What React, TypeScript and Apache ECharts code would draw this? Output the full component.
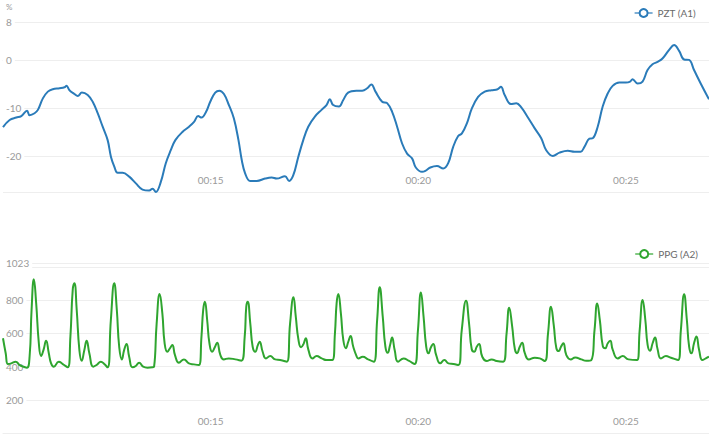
import React, { useEffect, useRef } from "react";
import * as echarts from "echarts";

// PZT (A1) — time in seconds, value in %
const pztTime = [
  10.0, 10.16, 10.32, 10.44, 10.58, 10.64, 10.76, 10.84, 10.96, 11.08, 11.2, 11.36, 11.48, 11.53, 11.6, 11.72,
  11.8, 11.9, 12.04, 12.16, 12.28, 12.4, 12.52, 12.6, 12.68, 12.76, 12.88, 13.04, 13.2, 13.36, 13.52, 13.6,
  13.68, 13.8, 13.92, 14.04, 14.15, 14.32, 14.48, 14.6, 14.7, 14.78, 14.89, 14.99, 15.11, 15.21, 15.32, 15.44,
  15.56, 15.67, 15.75, 15.83, 15.95, 16.11, 16.31, 16.47, 16.59, 16.79, 16.89, 16.99, 17.11, 17.23, 17.35, 17.51,
  17.67, 17.79, 17.87, 17.95, 18.09, 18.19, 18.31, 18.51, 18.65, 18.77, 18.87, 18.97, 19.13, 19.25, 19.37, 19.49,
  19.61, 19.73, 19.85, 19.94, 20.09, 20.17, 20.29, 20.45, 20.6, 20.72, 20.84, 20.96, 21.05, 21.17, 21.29, 21.44,
  21.6, 21.76, 21.91, 21.99, 22.08, 22.23, 22.36, 22.48, 22.64, 22.8, 22.96, 23.08, 23.24, 23.4, 23.6, 23.76,
  23.91, 24.0, 24.12, 24.2, 24.32, 24.44, 24.56, 24.68, 24.84, 25.0, 25.1, 25.16, 25.28, 25.4, 25.52, 25.64,
  25.76, 25.88, 26.04, 26.16, 26.28, 26.4, 26.52, 26.64, 26.8, 27.0,
];
const pztValue = [
  -13.9, -12.4, -11.9, -11.6, -10.5, -11.4, -11.0, -10.3, -7.9, -6.5, -6.0, -5.8, -5.6, -5.3, -6.2, -7.0,
  -7.4, -6.7, -7.2, -8.6, -11.0, -13.8, -16.6, -20.1, -22.1, -23.4, -23.4, -24.2, -25.6, -26.9, -27.1, -26.7,
  -27.4, -25.3, -21.4, -18.7, -16.6, -14.9, -13.8, -12.8, -11.6, -11.9, -10.7, -8.6, -6.7, -6.3, -7.0, -9.3,
  -12.1, -16.6, -20.8, -23.5, -25.1, -25.1, -24.6, -24.4, -24.6, -24.1, -25.1, -23.9, -20.1, -16.6, -13.8, -11.7,
  -10.3, -9.3, -8.1, -9.3, -9.6, -8.3, -6.7, -6.3, -6.3, -5.8, -5.0, -6.5, -8.6, -8.9, -10.7, -13.8,
  -17.3, -19.4, -20.4, -22.3, -23.2, -23.0, -22.3, -22.0, -22.5, -21.4, -18.0, -15.75, -15.2, -13.1, -10.0, -7.6,
  -6.5, -6.2, -6.0, -5.5, -7.2, -9.1, -8.9, -9.8, -11.9, -14.1, -16.2, -18.7, -19.9, -19.2, -18.8, -19.0,
  -19.0, -18.0, -16.3, -16.2, -13.8, -9.6, -6.9, -5.3, -4.6, -4.6, -4.4, -3.9, -4.8, -4.4, -2.0, -0.8,
  -0.3, 0.4, 2.2, 3.2, 2.0, 0.2, 0.1, -2.0, -4.8, -8.1,
];

// PPG (A2) — time in seconds, raw value (0–1023)
const ppgTime = [
  10.0, 10.065, 10.12, 10.199, 10.305, 10.4, 10.496, 10.575, 10.64, 10.688, 10.743, 10.799, 10.863, 10.918, 10.976, 11.038,
  11.103, 11.158, 11.223, 11.343, 11.439, 11.559, 11.623, 11.679, 11.719, 11.775, 11.839, 11.894, 11.959, 12.014, 12.079, 12.175,
  12.254, 12.357, 12.439, 12.518, 12.597, 12.679, 12.741, 12.798, 12.861, 12.918, 12.974, 13.038, 13.117, 13.197, 13.278, 13.374,
  13.477, 13.597, 13.638, 13.7, 13.772, 13.837, 13.892, 13.957, 14.021, 14.077, 14.141, 14.237, 14.357, 14.477, 14.597, 14.717,
  14.779, 14.82, 14.861, 14.916, 14.971, 15.036, 15.1, 15.156, 15.235, 15.316, 15.436, 15.595, 15.738, 15.82, 15.858, 15.892,
  15.954, 16.012, 16.074, 16.139, 16.18, 16.252, 16.331, 16.434, 16.554, 16.674, 16.834, 16.913, 16.995, 17.05, 17.115, 17.177,
  17.235, 17.29, 17.354, 17.45, 17.553, 17.674, 17.794, 17.93, 17.993, 18.033, 18.074, 18.136, 18.194, 18.256, 18.314, 18.369,
  18.434, 18.513, 18.554, 18.664, 18.793, 18.928, 19.009, 19.072, 19.144, 19.208, 19.263, 19.321, 19.369, 19.431, 19.513, 19.647,
  19.767, 19.911, 19.992, 20.064, 20.127, 20.191, 20.246, 20.304, 20.359, 20.431, 20.527, 20.63, 20.726, 20.846, 20.966, 21.047,
  21.15, 21.222, 21.287, 21.349, 21.407, 21.462, 21.541, 21.647, 21.767, 21.887, 22.045, 22.126, 22.189, 22.261, 22.326, 22.381,
  22.438, 22.501, 22.565, 22.661, 22.805, 22.925, 23.045, 23.124, 23.196, 23.261, 23.325, 23.381, 23.436, 23.493, 23.565, 23.669,
  23.781, 23.925, 24.045, 24.165, 24.244, 24.309, 24.371, 24.443, 24.501, 24.563, 24.621, 24.683, 24.803, 24.923, 25.06, 25.268,
  25.331, 25.403, 25.467, 25.522, 25.58, 25.642, 25.7, 25.762, 25.843, 25.963, 26.083, 26.258, 26.323, 26.402, 26.467, 26.522,
  26.577, 26.642, 26.697, 26.762, 26.841, 26.923, 27.0,
];
const ppgValue = [
  570, 480, 415, 419, 429, 409, 399, 393, 459, 740, 925, 780, 540, 463, 500, 555,
  480, 419, 399, 429, 415, 395, 580, 861, 901, 740, 500, 435, 500, 555, 480, 399,
  409, 429, 415, 395, 680, 901, 740, 519, 443, 500, 535, 459, 395, 403, 423, 399,
  393, 395, 399, 660, 836, 720, 540, 489, 510, 530, 469, 423, 443, 419, 413, 409,
  580, 740, 790, 680, 540, 489, 516, 543, 469, 443, 449, 443, 435, 580, 760, 790,
  660, 519, 489, 530, 549, 489, 449, 463, 443, 439, 429, 660, 817, 700, 560, 516,
  535, 570, 500, 449, 463, 449, 439, 439, 600, 780, 836, 720, 560, 510, 549, 584,
  519, 463, 449, 459, 443, 429, 680, 877, 700, 519, 483, 530, 574, 500, 429, 449,
  435, 415, 620, 845, 700, 519, 480, 516, 535, 469, 419, 439, 419, 415, 409, 620,
  796, 660, 504, 489, 519, 535, 459, 433, 443, 433, 429, 600, 754, 640, 504, 480,
  516, 543, 480, 443, 453, 449, 433, 600, 760, 650, 510, 493, 519, 540, 469, 443,
  455, 443, 435, 439, 620, 780, 680, 523, 510, 540, 555, 500, 449, 463, 443, 439,
  620, 800, 680, 530, 495, 540, 574, 504, 449, 463, 453, 439, 620, 835, 680, 519,
  480, 543, 580, 500, 439, 449, 459,
];

// Axis ticks
const timeLabels = [15, 20, 25];
const pztLabels = [-20, -10, 0, 8];
const ppgLabels = [200, 400, 600, 800, 1023];

const PZT_NAME = "PZT (A1)";
const PPG_NAME = "PPG (A2)";
const BLUE = "#2a7bb9";
const GREEN = "#2fa52f";
const FONT = "Lato, 'Noto Sans', sans-serif";

const fmtTime = (v: number) => "00:" + String(Math.round(v)).padStart(2, "0");

export default function App() {
  const ref = useRef<HTMLDivElement>(null);
  useEffect(() => {
    if (!ref.current) return;
    const chart = echarts.init(ref.current, null, { renderer: "svg" });
    const pztData = pztTime.map((t, i) => [t, pztValue[i]]);
    const ppgData = ppgTime.map((t, i) => [t, ppgValue[i]]);

    const xAxisBase = (gridIndex: number) => ({
      type: "value" as const,
      gridIndex,
      min: 10,
      max: 27,
      interval: 5,
      axisLine: { show: true, lineStyle: { color: "#eeeeee", width: 1 } },
      axisTick: { show: false },
      splitLine: { show: false },
      axisLabel: {
        inside: true,
        margin: 7,
        color: "#9a9a9a",
        fontSize: 10,
        fontFamily: FONT,
        customValues: timeLabels,
        formatter: (v: number) => fmtTime(v),
      },
    });

    const yLabelBase = {
      inside: true,
      margin: 0,
      align: "left" as const,
      verticalAlign: "middle" as const,
      backgroundColor: "#ffffff",
      padding: [1, 3, 1, 3],
      color: "#9a9a9a",
      fontSize: 10,
      fontFamily: FONT,
      formatter: (v: number) => String(v),
    };

    const legendBase = {
      itemWidth: 18,
      itemHeight: 10,
      itemGap: 5,
      lineStyle: { width: 1.2 },
      itemStyle: { borderWidth: 1.2 },
      textStyle: { color: "#6a6a6a", fontSize: 10, fontFamily: FONT },
    };

    chart.setOption({
      animation: false,
      backgroundColor: "#ffffff",
      textStyle: { fontFamily: FONT },
      grid: [
        { left: 0, right: 0, top: 22, height: 170, containLabel: false },
        { left: 0, right: 0, top: 263, height: 170, containLabel: false },
      ],
      legend: [
        { ...legendBase, data: [PZT_NAME], right: 8, top: 3 },
        { ...legendBase, data: [PPG_NAME], right: 6, top: 244 },
      ],
      xAxis: [xAxisBase(0), xAxisBase(1)],
      yAxis: [
        {
          type: "value",
          gridIndex: 0,
          min: -27.4,
          max: 8,
          name: "%",
          nameLocation: "end",
          nameGap: 15,
          nameTextStyle: {
            align: "left",
            verticalAlign: "middle",
            color: "#9a9a9a",
            fontSize: 8,
            padding: [0, 0, 0, 3],
          },
          axisLine: { show: false },
          axisTick: { show: false },
          splitLine: { show: true, lineStyle: { color: "#eeeeee", width: 1 } },
          axisLabel: { ...yLabelBase, customValues: pztLabels },
        },
        {
          type: "value",
          gridIndex: 1,
          min: 0,
          max: 1023,
          axisLine: { show: false },
          axisTick: { show: false },
          splitLine: { show: true, lineStyle: { color: "#eeeeee", width: 1 } },
          axisLabel: { ...yLabelBase, customValues: ppgLabels },
        },
      ],
      series: [
        {
          name: PZT_NAME,
          type: "line",
          xAxisIndex: 0,
          yAxisIndex: 0,
          data: pztData,
          showSymbol: false,
          symbol: "emptyCircle",
          smooth: 0.4,
          lineStyle: { color: BLUE, width: 2 },
          itemStyle: { color: BLUE },
        },
        {
          name: PPG_NAME,
          type: "line",
          xAxisIndex: 1,
          yAxisIndex: 1,
          data: ppgData,
          showSymbol: false,
          symbol: "emptyCircle",
          smooth: 0.5,
          lineStyle: { color: GREEN, width: 2 },
          itemStyle: { color: GREEN },
        },
      ],
    });
    return () => chart.dispose();
  }, []);

  return (
    <div
      ref={ref}
      style={{ position: "fixed", left: 0, top: 0, width: 709, height: 436 }}
    />
  );
}
